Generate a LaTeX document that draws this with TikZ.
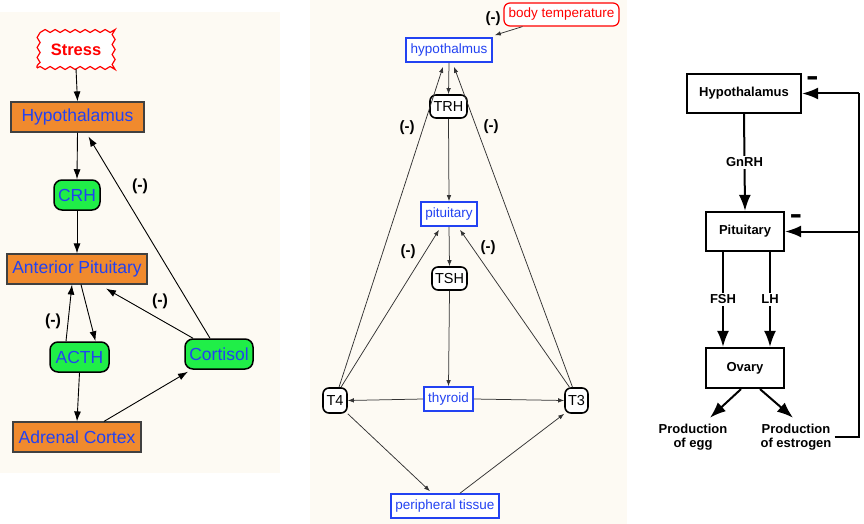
\documentclass[tikz,border=0pt]{standalone}
\usepackage{fontspec}
\setmainfont{Liberation Sans}
\usetikzlibrary{arrows.meta,decorations.pathmorphing}
\definecolor{cream}{HTML}{FDFAF3}
\definecolor{hblue}{HTML}{2242F2}
\definecolor{horange}{HTML}{F08A2E}
\definecolor{hgreen}{HTML}{20EE48}
\tikzset{
  % left panel
  lbox/.style={draw=black!75,line width=1.2pt,fill=horange,text=hblue,
    font=\fontsize{17.5}{20}\selectfont,inner sep=0pt,minimum height=30pt},
  lpill/.style={draw=black,line width=1.5pt,fill=hgreen,rounded corners=8pt,
    text=hblue,font=\fontsize{17.5}{20}\selectfont,inner sep=0pt,minimum height=30pt},
  larrow/.style={-{Latex[length=10pt,width=7pt]},line width=0.9pt},
  lneg/.style={font=\fontsize{16}{16}\selectfont\bfseries},
  % middle panel
  mbox/.style={draw=hblue,line width=1.6pt,fill=white,text=hblue,
    font=\fontsize{13.5}{16}\selectfont,inner sep=0pt,minimum height=24pt},
  mpill/.style={draw=black,line width=1.6pt,fill=white,rounded corners=6pt,
    font=\fontsize{14.5}{16}\selectfont,inner sep=0pt,minimum height=24pt},
  marrow/.style={-{Latex[length=6pt,width=4.5pt]},line width=0.75pt,draw=black!80},
  mneg/.style={font=\fontsize{15}{15}\selectfont\bfseries},
  % right panel
  rbox/.style={draw=black,line width=2.2pt,fill=white,
    font=\fontsize{13}{15}\selectfont\bfseries,inner sep=0pt,minimum height=39pt},
  rarrow/.style={-{Latex[length=16pt,width=12pt]},line width=2pt},
  rlabel/.style={fill=white,font=\fontsize{13}{15}\selectfont\bfseries,inner sep=2pt},
  rtext/.style={align=center,font=\fontsize{13}{14}\selectfont\bfseries,inner sep=0pt},
  rneg/.style={font=\fontsize{19}{19}\selectfont\bfseries,inner sep=0pt}
}
\begin{document}
\begin{tikzpicture}[x=1pt,y=-1pt]
  \useasboundingbox (0,0) rectangle (864,524);
  % The backgrounds
  \fill [cream] (0,12) rectangle (280,473);
  \fill [cream] (310,0) rectangle (627,524);

  % Stress axis
  \node [draw=red,line width=1.2pt,fill=white,text=red,decorate,
         decoration={snake,segment length=10pt,amplitude=1.5pt},
         minimum width=78pt,minimum height=36pt,inner sep=0pt,
         font=\fontsize{16.5}{18}\selectfont\bfseries] (stress) at (76,50) {Stress};
  \node [lbox,minimum width=133pt] (hypoL) at (77.5,117) {Hypothalamus};
  \node [lpill,minimum width=46pt] (crh) at (77,195) {CRH};
  \node [lbox,minimum width=140pt] (antpit) at (77,269) {Anterior Pituitary};
  \node [lpill,minimum width=59pt] (acth) at (79.5,357) {ACTH};
  \node [lpill,minimum width=68pt] (cortisol) at (219,354) {Cortisol};
  \node [lbox,minimum width=128pt] (adrenal) at (77,437) {Adrenal Cortex};
  % Stress connectors
  \draw [larrow] (stress.south) -- (hypoL.north);
  \draw [larrow] (hypoL.south) -- (crh.north);
  \draw [larrow] (crh.south) -- (antpit.north);
  \draw [larrow] ([xshift=4pt]antpit.south) -- ([xshift=16pt]acth.north);
  \draw [larrow] ([xshift=-13.5pt]acth.north) -- ([xshift=-5pt]antpit.south);
  \draw [larrow] (acth.south) -- (adrenal.north);
  \draw [larrow] ([xshift=27pt]adrenal.north) -- ([xshift=-31pt,yshift=-2pt]cortisol.south);
  \draw [larrow] ([xshift=-26pt]cortisol.north) -- ([xshift=29pt,yshift=-4pt]antpit.south);
  \draw [larrow] ([xshift=-9pt]cortisol.north) -- ([xshift=11pt,yshift=-4pt]hypoL.south);
  \node [lneg] (negA) at (140,186) {(-)};
  \node [lneg] (negB) at (160,301) {(-)};
  \node [lneg] (negC) at (53,321) {(-)};

  % Thyroid axis
  \node [draw=red,line width=1.2pt,fill=white,text=red,rounded corners=6pt,
         minimum width=115pt,minimum height=23pt,inner sep=0pt,
         font=\fontsize{13.5}{16}\selectfont] (bodyT) at (561.5,14.5) {body temperature};
  \node [mbox,minimum width=86pt] (hypoM) at (449,50) {hypothalmus};
  \node [mpill,minimum width=37pt,minimum height=23pt] (trh) at (448.5,106.5) {TRH};
  \node [mbox,minimum width=56pt] (pitM) at (449,214) {pituitary};
  \node [mpill,minimum width=35pt,minimum height=23pt] (tsh) at (449.5,278.5) {TSH};
  \node [mbox,minimum width=49pt] (thyroid) at (448.5,399) {thyroid};
  \node [mpill,minimum width=24pt,minimum height=25pt] (tfour) at (335,400.5) {T4};
  \node [mpill,minimum width=23pt,minimum height=25pt] (tthree) at (576.5,400.5) {T3};
  \node [mbox,minimum width=108pt] (periph) at (445,506) {peripheral tissue};
  % Thyroid connectors
  \draw [marrow] ([xshift=-39pt]bodyT.south) -- ([xshift=2pt,yshift=2pt]hypoM.north east);
  \draw [marrow] (hypoM.south) -- (trh.north);
  \draw [marrow] (trh.south) -- (pitM.north);
  \draw [marrow] (pitM.south) -- (tsh.north);
  \draw [marrow] (tsh.south) -- (thyroid.north);
  \draw [marrow] (thyroid.west) -- (tfour.east);
  \draw [marrow] (thyroid.east) -- (tthree.west);
  \draw [marrow] ([xshift=4pt]tfour.north) -- ([xshift=-6pt,yshift=-4pt]hypoM.south);
  \draw [marrow] ([xshift=6pt]tfour.north) -- ([xshift=-10pt,yshift=-3pt]pitM.south);
  \draw [marrow] ([xshift=-4pt]tthree.north) -- ([xshift=5pt,yshift=-4pt]hypoM.south);
  \draw [marrow] ([xshift=-7pt]tthree.north) -- ([xshift=11pt,yshift=-3pt]pitM.south);
  \draw [marrow] (tfour.south east) -- ([xshift=-15pt,yshift=2pt]periph.north);
  \draw [marrow] ([xshift=15pt]periph.north) -- (tthree.south west);
  \node [mneg] (negD) at (493,19) {(-)};
  \node [mneg] (negE) at (407,128) {(-)};
  \node [mneg] (negF) at (491,127) {(-)};
  \node [mneg] (negG) at (408,252) {(-)};
  \node [mneg] (negH) at (488,248) {(-)};

  % Ovary axis
  \node [rbox,minimum width=114pt] (hypoR) at (744,93.5) {Hypothalamus};
  \node [rbox,minimum width=78pt] (pitR) at (745,231.5) {Pituitary};
  \node [rbox,minimum width=78pt,minimum height=40pt] (ovary) at (745,368) {Ovary};
  \node [rtext] (egg) at (693,437) {Production\\of egg};
  \node [rtext] (estro) at (796,437) {Production\\of estrogen};
  \coordinate (fbtop) at (859,93.5);
  \coordinate (fbmid) at (859,231.5);
  % Ovary connectors
  \draw [rarrow] (hypoR.south) -- node [rlabel] {GnRH} (pitR.north);
  \draw [rarrow] ([xshift=-22pt]pitR.south) -- node [rlabel] {FSH} ([xshift=-22pt]ovary.north);
  \draw [rarrow] ([xshift=25pt]pitR.south) -- node [rlabel] {LH} ([xshift=25pt]ovary.north);
  \draw [rarrow] ([xshift=-4pt]ovary.south) -- ([xshift=17pt,yshift=6pt]egg.north);
  \draw [rarrow] ([xshift=15pt]ovary.south) -- ([xshift=-3pt,yshift=6pt]estro.north);
  % Feedback loop
  \draw [line width=2pt] ([xshift=3pt]estro.east) -| (fbtop);
  \draw [rarrow] (fbtop) -- (hypoR.east);
  \draw [rarrow] (fbmid) -- (pitR.east);
  \node [rneg] (negR) at (812.5,82.5) {\scalebox{1}[1.8]{–}};
  \node [rneg] (negS) at (796,220.5) {\scalebox{1}[1.8]{–}};
\end{tikzpicture}
\end{document}
